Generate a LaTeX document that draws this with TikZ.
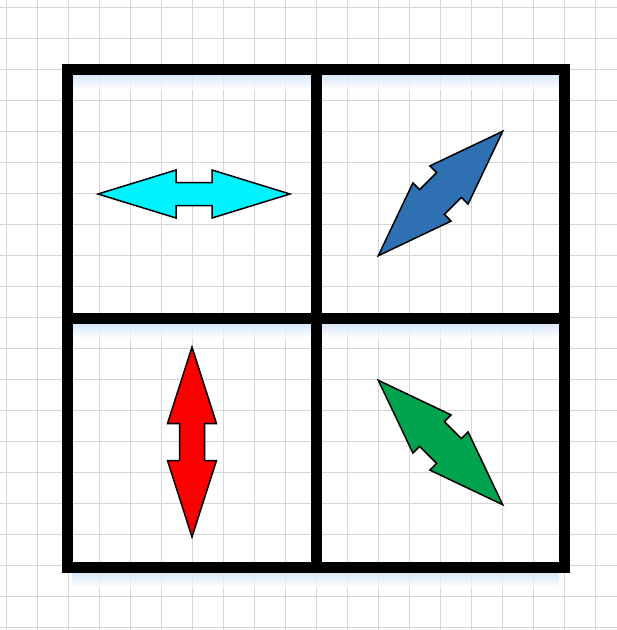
\documentclass[tikz,border=0pt]{standalone}
\definecolor{gridc}{RGB}{214,214,214}
\definecolor{cyanA}{RGB}{0,242,255}
\definecolor{blueA}{RGB}{46,112,178}
\definecolor{redA}{RGB}{250,0,0}
\definecolor{greenA}{RGB}{0,163,78}
\definecolor{glow}{RGB}{205,225,245}
\tikzset{
  gridline/.style={draw=gridc, line width=1pt},
  frame/.style={draw=black, line width=11pt, line cap=rect, line join=miter},
  arrowshape/.style={draw=black, line width=1.5pt, line join=miter},
}
% x, y, angle, half length, color, shaft half-length, head half-width, shaft half-width
\newcommand\dblarrow[8]{%
  \begin{scope}[shift={(#1,#2)}, rotate=#3]
    \filldraw[arrowshape, fill=#5] (-#4,0) -- (-#6,#7) -- (-#6,#8) -- (#6,#8) -- (#6,#7) -- (#4,0)
      -- (#6,-#7) -- (#6,-#8) -- (-#6,-#8) -- (-#6,-#7) -- cycle;
  \end{scope}}
\begin{document}
\begin{tikzpicture}[x=1pt, y=-1pt]
  \useasboundingbox (0,0) rectangle (617,630);
  \fill[white] (0,0) rectangle (617,630);
  % grid
  \foreach \i in {0,...,19} {
    \draw[gridline] ({6+31*\i},0) -- ({6+31*\i},630);
  }
  \foreach \j in {0,...,20} {
    \draw[gridline] (0,{7+31*\j}) -- (617,{7+31*\j});
  }
  % glow below horizontal bars
  \foreach \yy in {69,318,567} {
    \shade[top color=glow, bottom color=white, opacity=0.8] (72,{\yy+5}) rectangle (559,{\yy+20});
  }
  % arrows
  \dblarrow{194}{194}{0}{96}{cyanA}{18}{24}{11.5}
  \dblarrow{440.5}{193.5}{45}{88}{blueA}{12}{27}{17.5}
  \dblarrow{192}{442}{90}{95}{redA}{18.5}{24.5}{12.5}
  \dblarrow{440.5}{442.5}{-45}{88}{greenA}{12}{27}{17.5}
  % frame
  \coordinate (tl) at (67,69);
  \coordinate (br) at (564,567);
  \draw[frame] (tl) rectangle (br);
  \draw[frame] (316,69) -- (316,567);
  \draw[frame] (67,318) -- (564,318);
\end{tikzpicture}
\end{document}
